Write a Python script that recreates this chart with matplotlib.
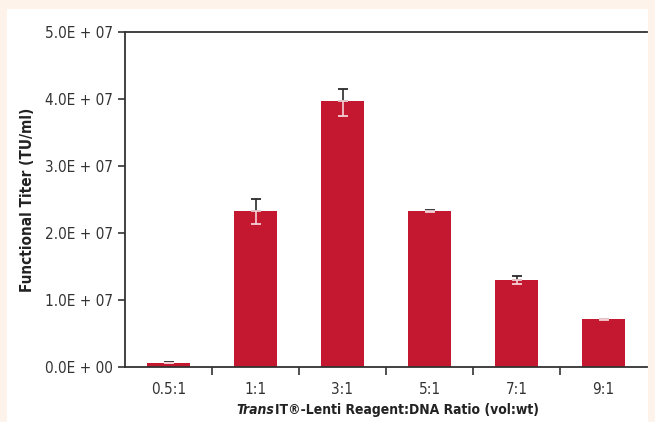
import matplotlib.pyplot as plt
from matplotlib.patches import Rectangle

ratios = ["0.5:1", "1:1", "3:1", "5:1", "7:1", "9:1"]
titer = [0.055e7, 2.33e7, 3.97e7, 2.33e7, 1.30e7, 0.715e7]
err_up = [0.025e7, 0.17e7, 0.18e7, 0.012e7, 0.06e7, 0.008e7]
err_lo = [0.0, 0.19e7, 0.23e7, 0.012e7, 0.06e7, 0.008e7]
ytick_vals = [0, 1e7, 2e7, 3e7, 4e7, 5e7]
ytick_text = ["0.0E + 00", "1.0E + 07", "2.0E + 07", "3.0E + 07", "4.0E + 07", "5.0E + 07"]

bar_color = "#c41730"
ink = "#333333"
label_font = dict(family="DejaVu Sans", fontstretch="condensed", fontweight="bold",
                  color="#222222")

fig = plt.figure(figsize=(6.55, 4.22), dpi=100, facecolor="#fdf3ea")
# white panel behind the chart
fig.patches.append(Rectangle((7 / 655, 0), 641 / 655, 413 / 422,
                             transform=fig.transFigure, facecolor="white",
                             edgecolor="none", zorder=-5))

ax = fig.add_axes([125 / 655, 55 / 422, 522 / 655, 335 / 422])
ax.set_facecolor("none")
ax.set_zorder(2)

x = list(range(len(ratios)))
ax.bar(x, titer, width=0.49, color=bar_color, zorder=2)

# upper half of each error bar in dark grey, lower half white over the bar
ax.errorbar(x, titer, yerr=[[0] * len(x), err_up], fmt="none", ecolor="#2a2a2a",
            elinewidth=1.2, capsize=3.5, capthick=1.3, zorder=3)
ax.errorbar(x, titer, yerr=[err_lo, [0] * len(x)], fmt="none", ecolor="#f5d0d5",
            elinewidth=1.2, capsize=3.5, capthick=1.3, zorder=3)

ax.set_xlim(-0.5, 5.5)
ax.set_ylim(0, 5e7)

ax.set_xticks(x)
ax.set_xticklabels(ratios, fontstretch="condensed")
ax.set_xticks([i + 0.5 for i in range(5)], minor=True)
ax.tick_params(axis="x", which="major", length=0, pad=11, labelsize=11, labelcolor=ink)
ax.tick_params(axis="x", which="minor", length=6, width=1.2, color=ink, direction="out")

ax.set_yticks(ytick_vals)
ax.set_yticklabels(ytick_text, fontstretch="condensed")
ax.tick_params(axis="y", length=5, width=1.2, color=ink, labelsize=11, labelcolor=ink, pad=4)

for side in ["left", "bottom", "top"]:
    ax.spines[side].set_color(ink)
    ax.spines[side].set_linewidth(1.3)
ax.spines["right"].set_visible(False)

ax.set_ylabel("Functional Titer (TU/ml)", fontsize=11, **label_font)
ax.yaxis.set_label_coords(-0.172, 0.5)

# x label: "Trans" in bold italic, rest in bold, centred under the axes
t1 = fig.text(0, 0.012, "Trans", fontsize=10, style="italic", ha="left",
              va="bottom", zorder=5, **label_font)
t2 = fig.text(0, 0.012, "IT\u00ae-Lenti Reagent:DNA Ratio (vol:wt)", fontsize=10,
              ha="left", va="bottom", zorder=5, **label_font)
fig.canvas.draw()
r = fig.canvas.get_renderer()
w1 = t1.get_window_extent(r).width
w2 = t2.get_window_extent(r).width
start = 387 - (w1 + w2) / 2
t1.set_x(start / 655)
t2.set_x((start + w1 + 1) / 655)

fig.savefig("out.png", dpi=100, facecolor=fig.get_facecolor())
